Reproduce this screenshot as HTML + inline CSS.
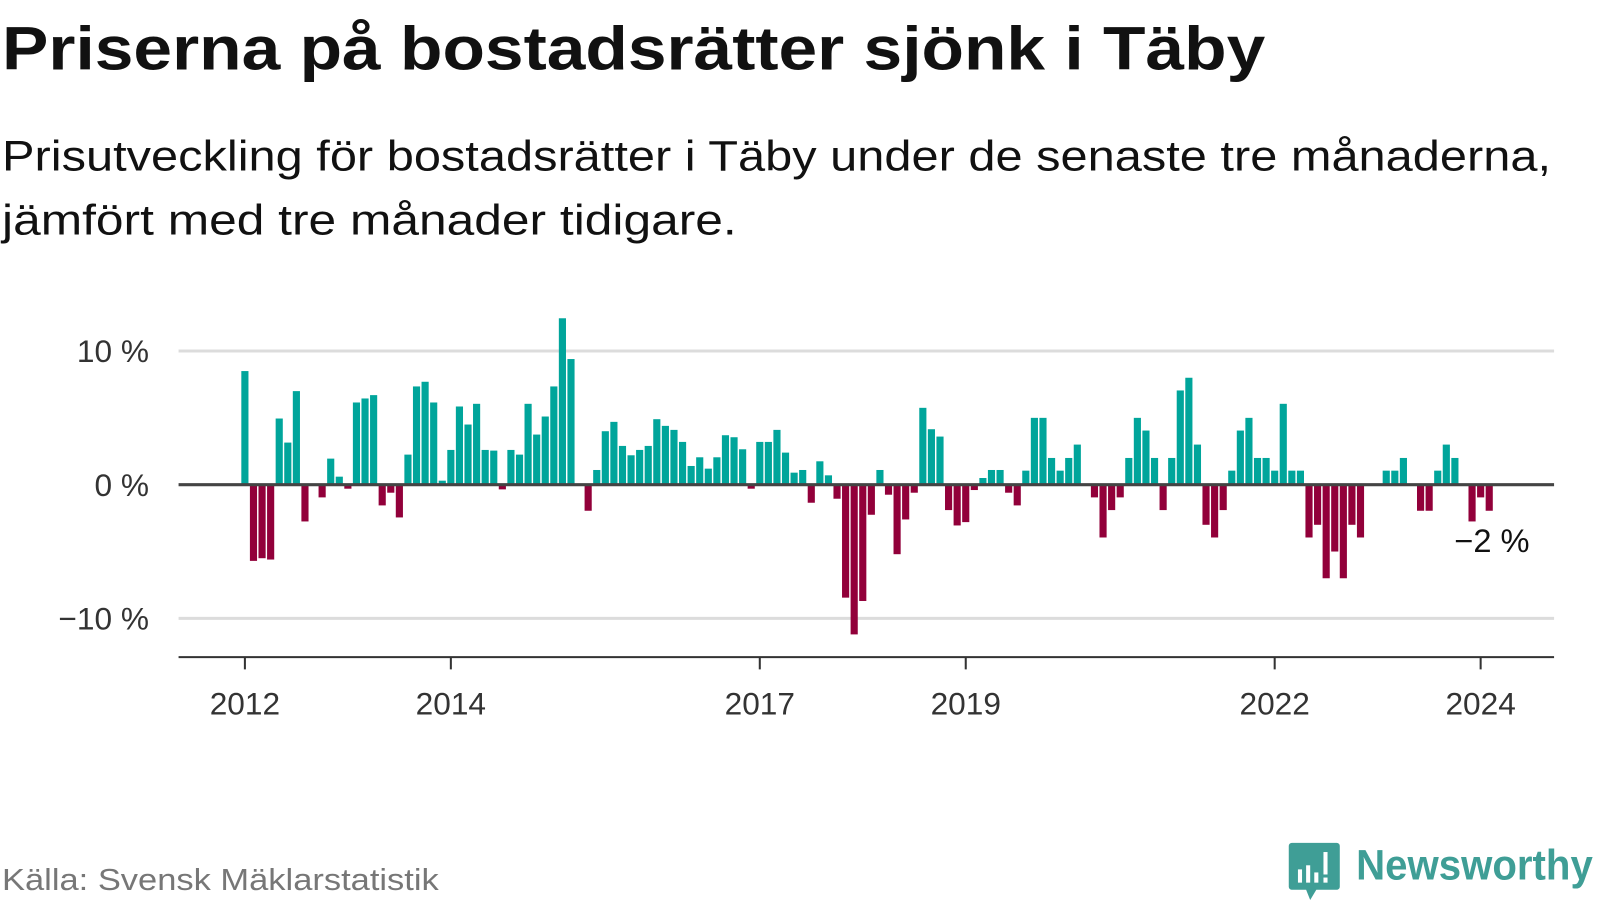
<!DOCTYPE html>
<html><head><meta charset="utf-8"><style>
html,body{margin:0;padding:0;background:#fff;}
svg{display:block;font-family:"Liberation Sans",sans-serif;}
</style></head><body>
<svg id="chart" width="1600" height="900" viewBox="0 0 1600 900" xmlns="http://www.w3.org/2000/svg">
<g transform="scale(1.0204)">
<text x="2" y="68" font-size="60" font-weight="bold" fill="#111" textLength="1238" lengthAdjust="spacingAndGlyphs">Priserna på bostadsrätter sjönk i Täby</text>
<text x="2" y="167" font-size="42" fill="#111" textLength="1518" lengthAdjust="spacingAndGlyphs">Prisutveckling för bostadsrätter i Täby under de senaste tre månaderna,</text>
<text x="2" y="230" font-size="42" fill="#111" textLength="720" lengthAdjust="spacingAndGlyphs">jämfört med tre månader tidigare.</text>
<g id="grid"></g>
<g id="bars"></g>
<g id="axes"></g>
<text x="1499" y="541" font-size="32" fill="#111" text-anchor="end">−2 %</text>
<text x="2" y="872" font-size="30" fill="#777" textLength="428" lengthAdjust="spacingAndGlyphs">Källa: Svensk Mäklarstatistik</text>
<g>
<path d="M1266 826 h44 a3 3 0 0 1 3 3 v40 a3 3 0 0 1 -3 3 h-20 l-6 10 l-4 -10 h-14 a3 3 0 0 1 -3 -3 v-40 a3 3 0 0 1 3 -3z" fill="#3f9e96"/>
<rect x="1272" y="852" width="4" height="13" fill="#fff"/><rect x="1280" y="848" width="4" height="17" fill="#fff"/><rect x="1288" y="855" width="4" height="10" fill="#fff"/><rect x="1297" y="835" width="4" height="22" fill="#fff"/><rect x="1297" y="860" width="4" height="5" fill="#fff"/>
<text x="1329" y="862" font-size="42" font-weight="bold" fill="#3f9e96" textLength="232" lengthAdjust="spacingAndGlyphs">Newsworthy</text>
</g>
</g>
</svg>
<script>
const values = [8.5,-5.7,-5.5,-5.6,4.95,3.15,7.0,-2.75,0,-0.95,1.95,0.6,-0.3,6.15,6.45,6.7,-1.55,-0.6,-2.45,2.25,7.35,7.7,6.15,0.3,
2.6,5.85,4.5,6.05,2.6,2.55,-0.35,2.6,2.25,6.05,3.75,5.1,7.35,12.45,9.4,0,-1.95,1.1,4.0,4.7,2.9,2.2,2.6,2.9,
4.9,4.4,4.1,3.2,1.4,2.05,1.2,2.05,3.7,3.55,2.65,-0.3,3.2,3.2,4.1,2.4,0.9,1.1,-1.35,1.75,0.7,-1.05,-8.45,-11.2,
-8.7,-2.25,1.1,-0.75,-5.2,-2.6,-0.6,5.75,4.15,3.6,-1.9,-3.05,-2.8,-0.4,0.5,1.1,1.1,-0.6,-1.55,1.05,5.0,5.0,
2.0,1.05,2.0,3.0,0,-0.95,-3.95,-1.9,-0.95,2.0,5.0,4.05,2.0,-1.9,2.0,7.05,8.0,3.0,-3.0,-3.95,-1.9,1.05,4.05,5.0,
2.0,2.0,1.05,6.05,1.05,1.05,-3.95,-3.0,-7.0,-5.0,-7.0,-3.0,-3.95,0,0,1.05,1.05,2.0,0,-1.95,-1.95,1.05,3.0,2.0,
0,-2.75,-0.95,-1.95];
const startYear = 2012;
const yTicks = [10,0,-10];
const yTickLabels = ["10 %","0 %","−10 %"];
const xTickYears = [2012,2014,2017,2019,2022,2024];

const NS="http://www.w3.org/2000/svg";
const x0=240, pxPerMonth=8.41, yZero=475, pxPerPct=13.1;
const xScale = m => x0 + m*pxPerMonth;
const yScale = v => yZero - v*pxPerPct;
function mk(tag,attrs,parent){const e=document.createElementNS(NS,tag);for(const k in attrs)e.setAttribute(k,attrs[k]);parent.appendChild(e);return e;}
const grid=document.getElementById('grid'), bars=document.getElementById('bars'), axes=document.getElementById('axes');
yTicks.forEach((t,i)=>{
  if(t!==0){const l=mk('line',{x1:175,x2:1523,y1:yScale(t),y2:yScale(t),stroke:'#dcdcdc','stroke-width':3},grid);
  
  }
  const tx=mk('text',{x:146,y:yScale(t)+11,'font-size':31,fill:'#333','text-anchor':'end'},axes);
  tx.textContent=yTickLabels[i];
  
  
});
values.forEach((v,i)=>{
  if(v===0)return;
  const y=v>0?yScale(v):yZero, h=Math.abs(v)*pxPerPct;
  const r=mk('rect',{x:xScale(i)-3.5,y:y,width:7,height:h,fill:v>0?'#00a59b':'#92003a'},bars);
  
  
});
const zl=mk('line',{x1:175,x2:1523,y1:yZero,y2:yZero,stroke:'#444','stroke-width':3},axes);


const xa=mk('line',{x1:175,x2:1523,y1:644,y2:644,stroke:'#333','stroke-width':2},axes);


xTickYears.forEach(yr=>{
  const x=xScale((yr-startYear)*12);
  const tk=mk('line',{x1:x,x2:x,y1:644,y2:656,stroke:'#333','stroke-width':2},axes);
  
  
  const t=mk('text',{x:x,y:700,'font-size':31,fill:'#333','text-anchor':'middle'},axes);
  t.textContent=yr;
  
  
});
</script>
</body></html>
